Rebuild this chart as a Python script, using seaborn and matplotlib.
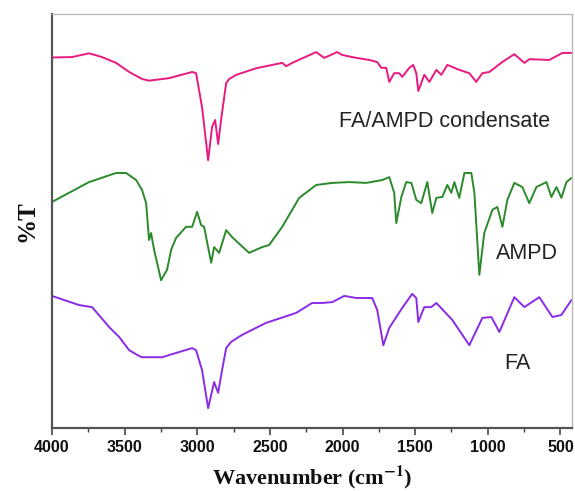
import numpy as np
import pandas as pd
import matplotlib
matplotlib.use("Agg")
import matplotlib.pyplot as plt
from matplotlib.ticker import MultipleLocator
import seaborn as sns

# ---- data (%T in arbitrary offset units) ----
fa_ampd_wn = [4000, 3862, 3745, 3656, 3559, 3469, 3380, 3332, 3194, 3035, 3008, 2967, 2925,
              2898, 2877, 2856, 2836, 2801, 2780, 2732, 2594, 2415, 2388, 2346, 2181, 2126,
              2036, 2002, 1905, 1816, 1761, 1733, 1699, 1678, 1644, 1609, 1589, 1540,
              1513, 1492, 1478, 1437, 1402, 1354, 1320, 1278, 1196, 1127, 1079, 1037,
              989, 900, 817, 748, 713, 576, 486, 424]
fa_ampd_t = [89.5, 89.6, 90.5, 89.6, 88.2, 86.0, 84.3, 83.9, 84.5, 86.0, 85.7, 77.5, 64.7,
             72.7, 74.4, 68.6, 74.4, 83.3, 84.3, 85.3, 86.9, 88.2, 87.4, 88.2, 90.8, 89.4,
             90.8, 90.1, 89.4, 88.9, 88.4, 87.0, 87.0, 83.6, 85.7, 85.7, 84.8, 87.0,
             87.7, 85.7, 81.4, 85.3, 83.6, 86.5, 85.3, 87.7, 86.5, 85.7, 83.6, 85.7,
             86.0, 88.4, 90.3, 88.2, 89.1, 88.9, 90.6, 90.6]

ampd_wn = [4000, 3745, 3559, 3490, 3421, 3380, 3352, 3332, 3318, 3297, 3249, 3208, 3180,
           3146, 3077, 3035, 3001, 2973, 2953, 2904, 2884, 2849, 2801, 2760, 2643, 2553,
           2505, 2415, 2298, 2181, 2071, 1954, 1837, 1726, 1678, 1644, 1630, 1595, 1561,
           1526, 1492, 1458, 1416, 1382, 1354, 1313, 1278, 1251, 1230, 1196, 1161,
           1113, 1092, 1058, 1024, 968, 934, 899, 865, 817, 762, 714, 665, 596, 562,
           527, 493, 458, 424]
ampd_t = [54.6, 59.4, 61.6, 61.6, 59.9, 57.5, 54.3, 45.4, 47.1, 43.0, 35.7, 38.2, 43.0,
          45.9, 48.6, 48.6, 52.2, 49.0, 48.6, 39.9, 43.7, 42.3, 47.8, 46.1, 42.3, 43.7,
          44.2, 48.6, 55.6, 58.7, 59.2, 59.4, 59.2, 59.9, 60.6, 56.8, 49.5, 55.8, 59.4,
          59.2, 55.1, 54.3, 59.4, 51.9, 55.6, 55.8, 58.7, 56.8, 59.4, 55.6, 61.6,
          61.6, 56.8, 37.0, 47.1, 52.7, 53.4, 48.6, 55.1, 59.2, 58.2, 54.3, 58.2,
          59.4, 55.8, 58.2, 55.6, 59.4, 60.4]

fa_wn = [4000, 3814, 3724, 3607, 3538, 3469, 3401, 3380, 3242, 3035, 3008, 2967, 2925, 2884,
         2856, 2829, 2801, 2767, 2691, 2526, 2319, 2209, 2140, 2071, 1988, 1905, 1795,
         1761, 1719, 1678, 1589, 1520, 1492, 1478, 1437, 1389, 1354, 1244, 1127,
         1037, 975, 920, 817, 748, 645, 555, 493, 424]
fa_t = [31.9, 29.7, 29.2, 24.4, 22.0, 18.8, 17.4, 17.1, 17.1, 19.3, 18.8, 14.0, 4.8, 11.1,
        8.5, 14.0, 19.3, 20.8, 22.5, 25.4, 27.8, 30.2, 30.2, 30.4, 31.9, 31.4, 31.4,
        28.5, 20.0, 24.2, 29.0, 32.4, 31.4, 25.6, 29.2, 29.2, 30.2, 26.1, 20.0,
        26.6, 26.8, 23.2, 31.6, 29.2, 31.6, 26.8, 27.3, 30.9]

series_names = ["FA/AMPD condensate", "AMPD", "FA"]
series_colors = ["#e8197f", "#2b8a2b", "#8a2be6"]

df = pd.concat([
    pd.DataFrame({"wn": fa_ampd_wn, "t": fa_ampd_t, "s": series_names[0]}),
    pd.DataFrame({"wn": ampd_wn, "t": ampd_t, "s": series_names[1]}),
    pd.DataFrame({"wn": fa_wn, "t": fa_t, "s": series_names[2]}),
], ignore_index=True)

sns.set_theme(style="white")
plt.rcParams["mathtext.fontset"] = "stix"

fig = plt.figure(figsize=(5.75, 4.91), dpi=100)
ax = fig.add_axes([52 / 575, 63 / 491, 520 / 575, 414 / 491])

sns.lineplot(data=df, x="wn", y="t", hue="s", palette=dict(zip(series_names, series_colors)),
             estimator=None, sort=False, linewidth=1.4, legend=False, ax=ax)

ax.set_xlim(4000, 420)
ax.set_ylim(0, 100)
ax.xaxis.set_major_locator(MultipleLocator(500))
ax.xaxis.set_minor_locator(MultipleLocator(250))
ax.set_yticks([])
ax.tick_params(axis="x", which="major", direction="out", length=5, width=1.2,
               color="#444444", bottom=True, pad=4)
ax.tick_params(axis="x", which="minor", direction="out", length=3, width=1.0,
               color="#444444", bottom=True)
for lab in ax.get_xticklabels():
    lab.set_fontfamily("Liberation Sans")
    lab.set_fontweight("bold")
    lab.set_fontsize(11.5)
    lab.set_color("#111111")

for side in ["left", "bottom"]:
    ax.spines[side].set_color("#555555")
    ax.spines[side].set_linewidth(1.6)
for side in ["top", "right"]:
    ax.spines[side].set_visible(True)
    ax.spines[side].set_color("#bbbbbb")
    ax.spines[side].set_linewidth(1.0)

ax.set_xlabel(r"Wavenumber (cm$^{\mathbf{-1}}$)", fontfamily="Liberation Serif",
              fontweight="bold", fontsize=16, color="#111111", labelpad=6)
ax.set_ylabel("%T", fontfamily="Liberation Serif", fontweight="bold",
              fontsize=18, color="#111111", labelpad=10)

label_pos = [(2022, 74.0), (941, 42.1), (886, 15.5)]
for name, (xw, yt) in zip(series_names, label_pos):
    ax.text(xw, yt, name, fontfamily="Liberation Sans", fontsize=15.5,
            color="#222222", ha="left", va="center")

fig.savefig("out.png", dpi=100)
